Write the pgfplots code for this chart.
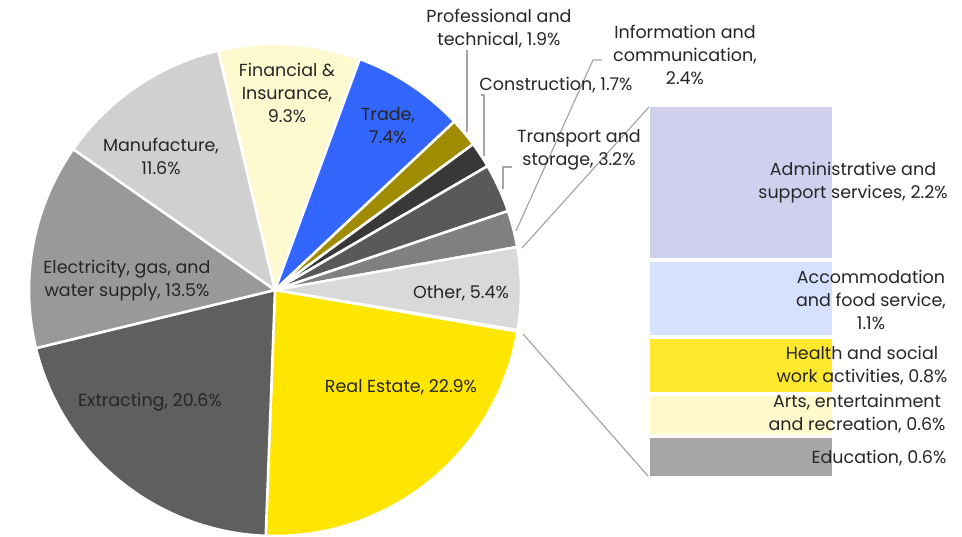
\documentclass[border=0pt]{standalone}
\usepackage{pgfplots}
\pgfplotsset{compat=1.18}
\usepackage{fontspec}
\setmainfont{Poppins}
\definecolor{cRE}{HTML}{FFE600}
\definecolor{cEX}{HTML}{5F5F5F}
\definecolor{cEL}{HTML}{999999}
\definecolor{cMA}{HTML}{D0D0D0}
\definecolor{cFI}{HTML}{FFF9D0}
\definecolor{cTR}{HTML}{3366FF}
\definecolor{cPR}{HTML}{A08C00}
\definecolor{cCO}{HTML}{383838}
\definecolor{cTS}{HTML}{595959}
\definecolor{cIN}{HTML}{808080}
\definecolor{cOT}{HTML}{D9D9D9}
\definecolor{cAD}{HTML}{D0D0EE}
\definecolor{cAC}{HTML}{D6E0FF}
\definecolor{cHE}{HTML}{FFE92E}
\definecolor{cAR}{HTML}{FFF9CC}
\definecolor{cED}{HTML}{A6A6A6}
\definecolor{txt}{HTML}{262626}
\definecolor{lead}{HTML}{A6A6A6}
\newcommand\cur{-9.72}
\newcommand\pieslice[2]{%
  \pgfmathsetmacro\angA{\cur}%
  \pgfmathsetmacro\angB{\cur-3.6*#1}%
  \edef\doplot{\noexpand\addplot[fill=#2, draw=white, line width=2.5pt, line join=round, domain=\angB:\angA, samples=90] ({275+246*cos(x)},{290-246*sin(x)}) -- (axis cs:275,290) -- cycle;}%
  \doplot
  \xdef\cur{\angB}}
\begin{document}
\begin{tikzpicture}[lab/.style={font=\fontsize{17.5}{23}\selectfont, text=txt, align=center, inner sep=0pt}]
\useasboundingbox (0,0) rectangle (962pt,537pt);
% bar of pie
\begin{axis}[at={(648pt,59pt)}, anchor=south west, scale only axis,
  width=186pt, height=373pt, xmin=-0.5, xmax=0.5, ymin=0, ymax=5.3,
  hide axis, ybar stacked, bar width=186pt]
\addplot[fill=cED, draw=white, line width=4pt] coordinates {(0,0.6)};
\addplot[fill=cAR, draw=white, line width=4pt] coordinates {(0,0.6)};
\addplot[fill=cHE, draw=white, line width=4pt] coordinates {(0,0.8)};
\addplot[fill=cAC, draw=white, line width=4pt] coordinates {(0,1.1)};
\addplot[fill=cAD, draw=white, line width=4pt] coordinates {(0,2.2)};
\end{axis}
% pie
\begin{axis}[at={(0pt,0pt)}, anchor=south west, scale only axis,
  width=962pt, height=537pt, xmin=0, xmax=962, ymin=0, ymax=537,
  y dir=reverse, hide axis, clip=false]
\pieslice{22.9}{cRE}
\pieslice{20.6}{cEX}
\pieslice{13.5}{cEL}
\pieslice{11.6}{cMA}
\pieslice{9.3}{cFI}
\pieslice{7.4}{cTR}
\pieslice{1.9}{cPR}
\pieslice{1.7}{cCO}
\pieslice{3.2}{cTS}
\pieslice{2.4}{cIN}
\pieslice{5.4}{cOT}
% connector and leader lines
\addplot[lead, line width=1.2pt] coordinates {(522,248) (649,107)};
\addplot[lead, line width=1.2pt] coordinates {(523,334) (648,476)};
\addplot[lead, line width=1.2pt] coordinates {(467,50) (467,132)};
\addplot[lead, line width=1.2pt] coordinates {(481,95) (484,95) (484,156)};
\addplot[lead, line width=1.2pt] coordinates {(512,167) (503,167) (503,189)};
\addplot[lead, line width=1.2pt] coordinates {(602,60) (593,60) (516,231)};
% labels
\node[lab] at (axis cs:401,387) {Real Estate, 22.9\%};
\node[lab] at (axis cs:150,402) {Extracting, 20.6\%};
\node[lab] at (axis cs:127,281) {Electricity, gas, and\\water supply, 13.5\%};
\node[lab] at (axis cs:161,156) {Manufacture,\\11.6\%};
\node[lab] at (axis cs:287,93) {Financial \&\\Insurance,\\9.3\%};
\node[lab] at (axis cs:388,126) {Trade,\\7.4\%};
\node[lab] at (axis cs:499,29) {Professional and\\technical, 1.9\%};
\node[lab] at (axis cs:556,85) {Construction, 1.7\%};
\node[lab] at (axis cs:685,55) {Information and\\communication,\\2.4\%};
\node[lab] at (axis cs:579,150) {Transport and\\storage, 3.2\%};
\node[lab] at (axis cs:461,293) {Other, 5.4\%};
\node[lab] at (axis cs:853,183) {Administrative and\\support services, 2.2\%};
\node[lab] at (axis cs:871,300) {Accommodation\\and food service,\\1.1\%};
\node[lab] at (axis cs:862,366) {Health and social\\work activities, 0.8\%};
\node[lab] at (axis cs:857,414) {Arts, entertainment\\and recreation, 0.6\%};
\node[lab] at (axis cs:879,458) {Education, 0.6\%};
\end{axis}
\end{tikzpicture}
\end{document}
